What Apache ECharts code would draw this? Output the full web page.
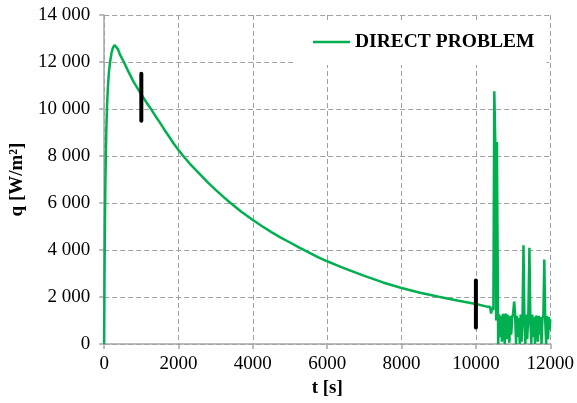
<!DOCTYPE html>
<html>
<head>
<meta charset="utf-8">
<script src="https://cdn.jsdelivr.net/npm/echarts@6/dist/echarts.min.js"></script>
<style>html,body{margin:0;padding:0;background:#fff}#c{width:577px;height:403px}</style>
</head>
<body>
<div id="c"></div>
<script>
const seriesName = 'DIRECT PROBLEM';
const xTicks = [0, 2000, 4000, 6000, 8000, 10000, 12000];
const yTicks = [0, 2000, 4000, 6000, 8000, 10000, 12000, 14000];
// time [s]
const timeValues = [
  0, 5, 10, 20, 30, 45, 60, 80, 100, 130, 160, 200, 240, 280, 320, 370, 430, 530, 650, 800,
  1000, 1130, 1260, 1380, 1500, 1620, 1750, 1870, 2000, 2150, 2300, 2450, 2600, 2800, 3000,
  3200, 3400, 3700, 4000, 4250, 4500, 4750, 5000, 5250, 5500, 5750, 6000, 6250, 6500,
  7000, 7500, 8000, 8500, 9000, 9500, 10000, 10300, 10350, 10380, 10410, 10440, 10470,
  10495, 10520, 10545, 10565, 10600,
  10625, 10650, 10675, 10700, 10725, 10750, 10775, 10800, 10825, 10850, 10875, 10900,
  10925, 10950, 10975, 11000, 11030, 11055, 11080, 11105, 11130, 11155, 11180, 11205,
  11230, 11255, 11280, 11305, 11330, 11355, 11380, 11410, 11440, 11465, 11490, 11515,
  11540, 11565, 11590, 11615, 11640, 11665, 11690, 11715, 11740, 11765, 11790, 11815,
  11840, 11865, 11890, 11915, 11940, 11965, 11985, 12000
];
// heat flux q [W/m2]
const fluxValues = [
  0, 1500, 3000, 5000, 6500, 8000, 9200, 10200, 10900, 11600, 12000, 12400, 12620, 12720, 12680, 12550, 12300, 12000, 11600, 11130,
  10620, 10300, 10000, 9700, 9420, 9120, 8820, 8530, 8250, 7960, 7680, 7430, 7190, 6860, 6560,
  6270, 6000, 5620, 5280, 5010, 4760, 4530, 4320, 4100, 3900, 3700, 3520, 3360, 3200,
  2900, 2620, 2380, 2180, 2010, 1850, 1700, 1590, 1540, 1580, 1300, 1550, 1450,
  10750, 8700, 1000, 8600, 0,
  1250, 300, 1200, 100, 1280, 1150, 0, 1300, 200, 1250, 1300, 50,
  1200, 400, 1100, 1300, 1800, 1250, 0, 1200, 300, 1100, 0, 1250,
  100, 1300, 4200, 1100, 0, 1250, 200, 1200, 4100, 1000, 0, 1250,
  300, 1150, 0, 1200, 1100, 100, 1200, 400, 1150, 0, 1100, 1200,
  3600, 1000, 0, 1200, 200, 1150, 600, 1050
];
// black uncertainty bars: [time, low, high]
const barTimes = [1000, 10000];
const barLows = [9500, 700];
const barHighs = [11500, 2700];

const font = 'Liberation Serif';
const green = '#00b050';
const mainData = timeValues.map((t, i) => [t, fluxValues[i]]);
const fmtY = v => String(v).replace(/\B(?=(\d{3})+(?!\d))/g, ' ');
const fmtX = v => String(v);

const chart = echarts.init(document.getElementById('c'));
const series = [{
  name: seriesName,
  type: 'line',
  data: mainData,
  showSymbol: false,
  symbol: 'none',
  smooth: false,
  lineStyle: { color: green, width: 2.5 },
  itemStyle: { color: green },
  z: 2
}];
barTimes.forEach((t, i) => {
  series.push({
    name: 'bar' + i,
    type: 'line',
    data: [[t, barLows[i]], [t, barHighs[i]]],
    symbol: 'none',
    lineStyle: { color: '#000', width: 4, cap: 'round' },
    z: 3
  });
});

chart.setOption({
  animation: false,
  backgroundColor: '#fff',
  grid: { left: 103, right: 26, top: 15, bottom: 59, containLabel: false },
  legend: {
    data: [seriesName],
    left: 296,
    top: 20,
    padding: [12, 12, 13, 17],
    backgroundColor: '#fff',
    icon: 'rect',
    itemWidth: 37,
    itemHeight: 2.5,
    itemGap: 7,
    itemStyle: { color: green },
    textStyle: { fontFamily: font, fontWeight: 'bold', fontSize: 19.5, color: '#000' }
  },
  xAxis: {
    type: 'value',
    min: xTicks[0], max: xTicks[xTicks.length - 1], interval: 2000,
    name: 't [s]', nameLocation: 'middle', nameGap: 31,
    nameTextStyle: { fontFamily: font, fontWeight: 'bold', fontSize: 19, color: '#000' },
    axisLine: { show: true, lineStyle: { color: '#a6a6a6', width: 1.5 } },
    axisTick: { show: true, length: 5, lineStyle: { color: '#a6a6a6', width: 1.5 } },
    axisLabel: { fontFamily: font, fontSize: 19, color: '#000', margin: 11, formatter: fmtX },
    splitLine: { show: true, lineStyle: { color: '#a0a0a0', type: [5, 3], width: 1 } }
  },
  yAxis: {
    type: 'value',
    min: yTicks[0], max: yTicks[yTicks.length - 1], interval: 2000,
    name: 'q [W/m²]', nameLocation: 'middle', nameGap: 74,
    nameTextStyle: { fontFamily: font, fontWeight: 'bold', fontSize: 19, color: '#000' },
    axisLine: { show: true, lineStyle: { color: '#a6a6a6', width: 1.5 } },
    axisTick: { show: true, length: 5, lineStyle: { color: '#a6a6a6', width: 1.5 } },
    axisLabel: { fontFamily: font, fontSize: 19, color: '#000', margin: 14, formatter: fmtY },
    splitLine: { show: true, lineStyle: { color: '#a0a0a0', type: [5, 3], width: 1 } }
  },
  series: series
});
</script>
</body>
</html>
